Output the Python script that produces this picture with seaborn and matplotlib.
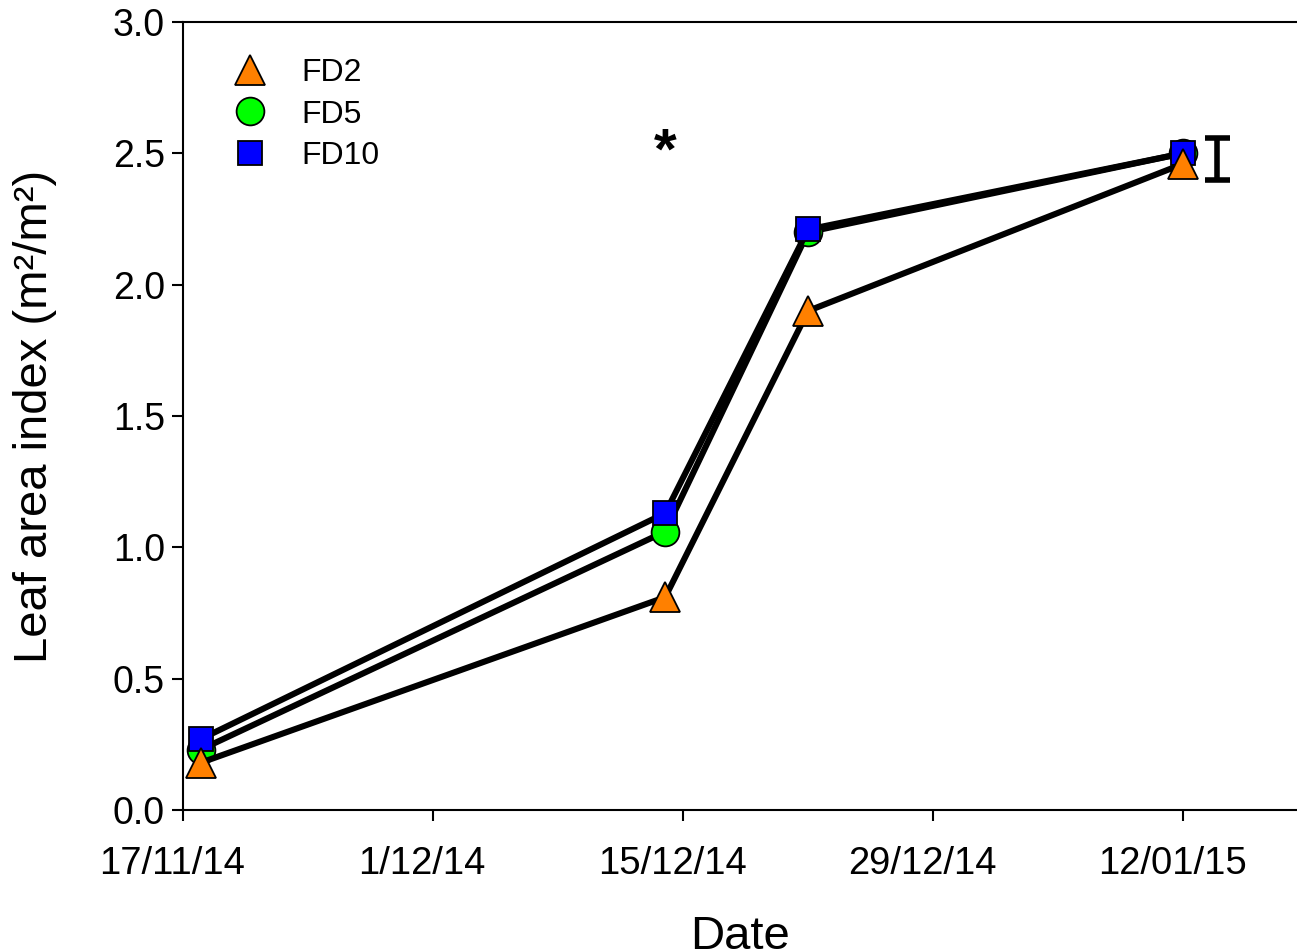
import pandas as pd
import numpy as np
import matplotlib
matplotlib.use("Agg")
import matplotlib.pyplot as plt
import matplotlib.transforms as mtransforms
import seaborn as sns

# data
dates = pd.to_datetime(["2014-11-18", "2014-12-14", "2014-12-22", "2015-01-12"])
fd2 = [0.18, 0.81, 1.90, 2.46]
fd5 = [0.23, 1.06, 2.20, 2.50]
fd10 = [0.27, 1.13, 2.21, 2.50]

tick_dates = pd.to_datetime(["2014-11-17", "2014-12-01", "2014-12-15", "2014-12-29", "2015-01-12"])
tick_labels = ["17/11/14", "1/12/14", "15/12/14", "29/12/14", "12/01/15"]

errbar_date = pd.to_datetime(["2015-01-13 22:00"])
errbar_mid = [2.48]
errbar_half = [0.08]

star_date = pd.Timestamp("2014-12-14")
star_y = 2.50

sns.set_style("ticks")
plt.rcParams['font.family'] = ['Liberation Sans', 'DejaVu Sans']
plt.rcParams['text.color'] = 'black'
plt.rcParams['axes.labelcolor'] = 'black'
plt.rcParams['xtick.color'] = 'black'
plt.rcParams['ytick.color'] = 'black'

fig = plt.figure(figsize=(12.97, 9.51), dpi=100)
ax = fig.add_axes([0.1411, 0.1483, 0.8589, 0.8286])

df = pd.DataFrame({"date": dates, "FD2": fd2, "FD5": fd5, "FD10": fd10})

# drawing order: circle, square, then triangle on top
series = [
    ("FD5", "o", "#00ff00", 20),
    ("FD10", "s", "#0000ff", 17),
    ("FD2", "^", "#ff8000", 21),
]
for name, mk, col, ms in series:
    sns.lineplot(x="date", y=name, data=df, ax=ax, color="black", linewidth=4.4,
                 marker=mk, markersize=ms, markerfacecolor=col,
                 markeredgecolor="black", markeredgewidth=1.3)

# legend handles (markers only)
handles = []
for name, mk, col, ms in [("FD2", "^", "#ff8000", 21), ("FD5", "o", "#00ff00", 20),
                          ("FD10", "s", "#0000ff", 17)]:
    h, = ax.plot([], [], linestyle="none", marker=mk, markersize=ms, markerfacecolor=col,
                 markeredgecolor="black", markeredgewidth=1.3, label=name)
    handles.append(h)
ax.legend(handles=handles, loc="upper left", bbox_to_anchor=(0.02, 0.97), frameon=False,
          fontsize=23, handletextpad=0.6, labelspacing=0.35, borderaxespad=0)

# error bar
ax.errorbar(errbar_date, errbar_mid, yerr=errbar_half, fmt="none", ecolor="black",
            elinewidth=4, capsize=9, capthick=4)

ax.text(star_date, star_y, "*", fontsize=42, fontweight="bold", ha="center", va="center")

ax.set_xlim(pd.Timestamp("2014-11-17"), pd.Timestamp("2015-01-18 09:00"))
ax.set_ylim(0, 3.0)
ax.set_yticks(np.arange(0, 3.01, 0.5))
ax.set_yticklabels([f"{v:.1f}" for v in np.arange(0, 3.01, 0.5)])
ax.set_xticks(tick_dates)
ax.set_xticklabels(tick_labels)

ax.set_xlabel("Date", fontsize=34, labelpad=24)
ax.set_ylabel("Leaf area index (m²/m²)", fontsize=34, labelpad=40)
ax.tick_params(axis="x", labelsize=27.5, length=8, width=1.5, pad=18, direction="out")
ax.tick_params(axis="y", labelsize=27, length=8, width=1.5, pad=5, direction="out")

# x tick labels sit slightly left of their ticks in the reference
shift = mtransforms.ScaledTranslation(-11 / 100, 0, fig.dpi_scale_trans)
for lab in ax.get_xticklabels():
    lab.set_transform(lab.get_transform() + shift)

for side in ["left", "bottom", "top"]:
    ax.spines[side].set_visible(True)
    ax.spines[side].set_linewidth(1.5)
    ax.spines[side].set_color("black")
ax.spines["right"].set_visible(False)

fig.savefig("out.png", dpi=100)
